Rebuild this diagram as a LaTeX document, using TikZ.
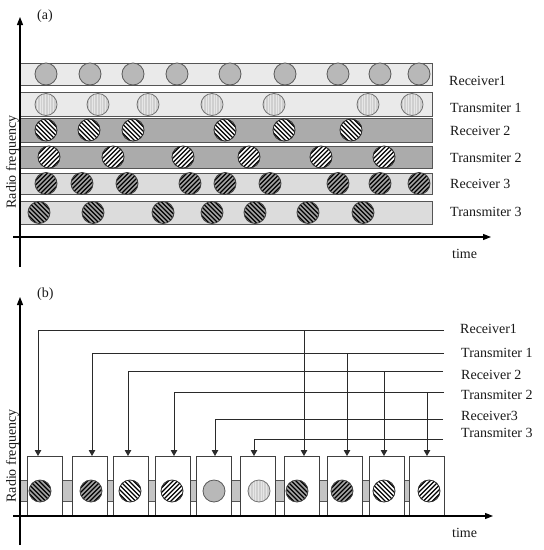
\documentclass[tikz,border=0pt]{standalone}
\usepackage{fontspec}
\setmainfont{Liberation Serif}
\usetikzlibrary{arrows.meta}
\definecolor{barlight}{HTML}{EAEAEA}
\definecolor{bardark}{HTML}{ABABAB}
\definecolor{barmid}{HTML}{DCDCDC}
\definecolor{baredge}{HTML}{555555}
\definecolor{rxonefill}{HTML}{B8B8B8}
\definecolor{txonefill}{HTML}{E6E6E6}
\definecolor{txonestripe}{HTML}{CFCFCF}
\definecolor{hatchbg}{HTML}{A2A2A2}
\definecolor{bandfill}{HTML}{C4C4C4}
\definecolor{linecol}{HTML}{2A2A2A}
\tikzset{
  cbase/.style={circle, minimum size=22pt, inner sep=0pt, line width=0.8pt},
  hatchNE/.style={path picture={\draw[shift={(path picture bounding box.center)}, black, line width=1.35pt]
      \foreach \k in {-6,...,6}{({\k*4.5pt-14pt},-14pt) -- ++(28pt,28pt)};}},
  hatchNW/.style={path picture={\draw[shift={(path picture bounding box.center)}, black, line width=1.35pt]
      \foreach \k in {-6,...,6}{({\k*4.5pt-14pt},14pt) -- ++(28pt,-28pt)};}},
  vlines/.style={path picture={\draw[shift={(path picture bounding box.center)}, txonestripe, line width=0.6pt]
      \foreach \k in {-7,...,7}{({\k*1.6pt},-12pt) -- ++(0pt,24pt)};}},
  rxone/.style={cbase, draw=black!65, fill=rxonefill},
  txone/.style={cbase, draw=black!55, fill=txonefill, vlines},
  rxtwo/.style={cbase, draw=black!85, fill=white, hatchNW},
  txtwo/.style={cbase, draw=black!85, fill=white, hatchNE},
  rxthree/.style={cbase, draw=black!75, fill=hatchbg, hatchNE},
  txthree/.style={cbase, draw=black!75, fill=hatchbg, hatchNW},
  barbox/.style={draw=baredge, line width=1pt, minimum width=412pt, inner sep=0pt, anchor=north west},
  axisline/.style={line width=1.1pt, black, -{Triangle[length=8pt,width=6pt]}},
  lbl/.style={anchor=base west, inner sep=0pt, text=black!90},
  slot/.style={draw=black!75, fill=white, line width=1pt, minimum width=35pt, minimum height=59pt, inner sep=0pt, anchor=north west},
  conn/.style={draw=linecol, line width=1pt},
  connarrow/.style={conn, -{Triangle[length=6pt,width=6.5pt]}},
}
\begin{document}
\begin{tikzpicture}[x=1pt, y=-1pt, font=\fontsize{14}{16}\selectfont]
\useasboundingbox (0,0) rectangle (544,550);

% ---------------- (a) ----------------
\node[lbl] (tagA) at (37,19.5) {(a)};
\node[barbox, fill=barlight, minimum height=22pt] (bar1) at (20,63) {};
\node[barbox, fill=barlight, minimum height=24pt] (bar2) at (20,92) {};
\node[barbox, fill=bardark, minimum height=24pt] (bar3) at (20,118) {};
\node[barbox, fill=bardark, minimum height=22pt] (bar4) at (20,146) {};
\node[barbox, fill=barmid, minimum height=21pt] (bar5) at (20,173) {};
\node[barbox, fill=barmid, minimum height=23pt] (bar6) at (20,201) {};

\foreach \x [count=\i] in {46,90,133,177,230,285,338,380,419}
  \node[rxone] (ra\i) at (\x,74) {};
\foreach \x [count=\i] in {46,98,148,212,274,368,412}
  \node[txone] (ta\i) at (\x,104.5) {};
\foreach \x [count=\i] in {46,89,133,225,284,351}
  \node[rxtwo] (rb\i) at (\x,130) {};
\foreach \x [count=\i] in {49,113,183,249,321,384}
  \node[txtwo] (tb\i) at (\x,157) {};
\foreach \x [count=\i] in {46,82,127,190,225,270,338,380,419}
  \node[rxthree] (rc\i) at (\x,183.5) {};
\foreach \x [count=\i] in {39,93,163,212,255,308,363}
  \node[txthree] (tc\i) at (\x,212.5) {};

\node[lbl] (la1) at (449,85) {Receiver1};
\node[lbl] (la2) at (450,112) {Transmiter 1};
\node[lbl] (la3) at (450,135) {Receiver 2};
\node[lbl] (la4) at (450,162) {Transmiter 2};
\node[lbl] (la5) at (450,188) {Receiver 3};
\node[lbl] (la6) at (450,216) {Transmiter 3};

\coordinate (ayA0) at (20,267);
\coordinate (ayA1) at (20,17);
\coordinate (axA0) at (13,237);
\coordinate (axA1) at (491,237);
\draw[axisline] (ayA0) -- (ayA1);
\draw[axisline] (axA0) -- (axA1);
\node[lbl] (timeA) at (452,258) {time};
\node[rotate=90, anchor=base, inner sep=0pt, text=black!90] (rfA) at (16,162) {Radio frequency};

% ---------------- (b) ----------------
\node[lbl] (tagB) at (37,297.5) {(b)};
\node[draw=baredge, fill=bandfill, line width=0.8pt, minimum width=424pt, minimum height=21pt, inner sep=0pt, anchor=north west] (band) at (20,480) {};

\foreach \x [count=\i] in {27,72,113,155,196,240,284,327,369,409}
  \node[slot] (s\i) at (\x,456) {};

\node[txthree] (c1) at (40,491) {};
\node[rxthree] (c2) at (91,491) {};
\node[rxtwo]   (c3) at (130,491) {};
\node[txtwo]   (c4) at (172,491) {};
\node[rxone]   (c5) at (214,491) {};
\node[txone]   (c6) at (259,491) {};
\node[txthree] (c7) at (297,491) {};
\node[rxthree] (c8) at (342,491) {};
\node[rxtwo]   (c9) at (384,491) {};
\node[txtwo]   (c10) at (429,491) {};

\node[lbl] (lb1) at (460,333) {Receiver1};
\node[lbl] (lb2) at (461,357) {Transmiter 1};
\node[lbl] (lb3) at (461,379) {Receiver 2};
\node[lbl] (lb4) at (461,399) {Transmiter 2};
\node[lbl] (lb5) at (461,420) {Receiver3};
\node[lbl] (lb6) at (461,437) {Transmiter 3};

% line ends near the labels
\coordinate (e1) at (444,330);
\coordinate (e2) at (444,353);
\coordinate (e3) at (443,371);
\coordinate (e4) at (444,392);
\coordinate (e5) at (443,419);
\coordinate (e6) at (443,439);
% drop positions
\coordinate (d1) at (38,0);
\coordinate (d2) at (92,0);
\coordinate (d3) at (128,0);
\coordinate (d4) at (174,0);
\coordinate (d5) at (215,0);
\coordinate (d6) at (254,0);
\draw[connarrow] (e1) -| (s1.north -| d1);
\draw[connarrow] (e2) -| (s2.north -| d2);
\draw[connarrow] (e3) -| (s3.north -| d3);
\draw[connarrow] (e4) -| (s4.north -| d4);
\draw[connarrow] (e5) -| (s5.north -| d5);
\draw[connarrow] (e6) -| (s6.north -| d6);
% verticals from the upper lines
\coordinate (v7) at (304,330);
\coordinate (v8) at (347,353);
\coordinate (v9) at (384,371);
\coordinate (v10) at (427,392);
\draw[connarrow] (v7) -- (s7.north -| v7);
\draw[connarrow] (v8) -- (s8.north -| v8);
\draw[connarrow] (v9) -- (s9.north -| v9);
\draw[connarrow] (v10) -- (s10.north -| v10);

\coordinate (ayB0) at (20,545);
\coordinate (ayB1) at (20,297);
\coordinate (axB0) at (13,516);
\coordinate (axB1) at (493,516);
\draw[axisline] (ayB0) -- (ayB1);
\draw[axisline] (axB0) -- (axB1);
\node[lbl] (timeB) at (452,537) {time};
\node[rotate=90, anchor=base, inner sep=0pt, text=black!90] (rfB) at (16,456) {Radio frequency};
\end{tikzpicture}
\end{document}
